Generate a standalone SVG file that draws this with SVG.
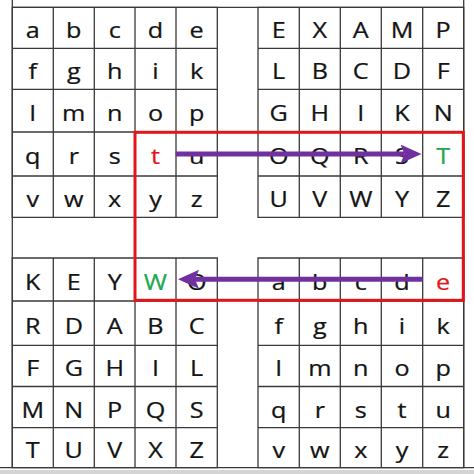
<svg xmlns="http://www.w3.org/2000/svg" width="474" height="474" viewBox="0 0 474 474">
<style>
.g{fill:none;stroke:#3a3a3a;stroke-width:1.3}
.t{font-family:"Open Sans","Liberation Sans",sans-serif;font-size:22.5px;fill:#141414;text-anchor:middle;stroke:#141414;stroke-width:0.25}
.red{fill:#e3141c;stroke:#e3141c}
.grn{fill:#1fa855;stroke:#1fa855}
.arr{stroke:#7030a0;stroke-width:5;fill:none}
</style>
<defs>
<marker id="ah" markerUnits="userSpaceOnUse" markerWidth="24" markerHeight="20" refX="4" refY="9.5" orient="auto">
<path d="M0,0 L21,9.5 L0,19 L4,9.5 Z" fill="#7030a0"/>
</marker>
</defs>
<rect width="474" height="474" fill="#fff"/>
<rect x="0" y="470" width="474" height="4" fill="#d4d4d4"/>
<g id="frame" class="g">
<path d="M12.3,0 V467.7 M463.7,0 V467.7 M12.3,7.3 H463.7 M0,467.7 H474"/>
</g>
<g id="square-top-left">
<path class="g" d="M12.3,7.3 H217.3 V217.3 H12.3 Z M12.3,48.3 H217.3 M12.3,89.3 H217.3 M12.3,132 H217.3 M12.3,176 H217.3 M53.3,7.3 V217.3 M94.3,7.3 V217.3 M135,7.3 V217.3 M176,7.3 V217.3"/>
<g class="t" transform="scale(1.12 1)">
<text x="29.29" y="38.3">a</text><text x="65.89" y="38.3">b</text><text x="102.41" y="38.3">c</text><text x="138.84" y="38.3">d</text><text x="175.63" y="38.3">e</text>
<text x="29.29" y="79.3">f</text><text x="65.89" y="79.3">g</text><text x="102.41" y="79.3">h</text><text x="138.84" y="79.3">i</text><text x="175.63" y="79.3">k</text>
<text x="29.29" y="121.2">l</text><text x="65.89" y="121.2">m</text><text x="102.41" y="121.2">n</text><text x="138.84" y="121.2">o</text><text x="175.63" y="121.2">p</text>
<text x="29.29" y="164.5">q</text><text x="65.89" y="164.5">r</text><text x="102.41" y="164.5">s</text><text x="138.84" y="164.5" class="red">t</text><text x="175.63" y="164.5">u</text>
<text x="29.29" y="207.2">v</text><text x="65.89" y="207.2">w</text><text x="102.41" y="207.2">x</text><text x="138.84" y="207.2">y</text><text x="175.63" y="207.2">z</text>
</g>
</g>
<g id="square-top-right">
<path class="g" d="M258,7.3 H463.7 V217.3 H258 Z M258,48.3 H463.7 M258,89.3 H463.7 M258,132 H463.7 M258,176 H463.7 M299.3,7.3 V217.3 M340.3,7.3 V217.3 M381.3,7.3 V217.3 M422.7,7.3 V217.3"/>
<g class="t" transform="scale(1.12 1)">
<text x="248.84" y="38.3">E</text><text x="285.54" y="38.3">X</text><text x="322.14" y="38.3">A</text><text x="358.93" y="38.3">M</text><text x="395.71" y="38.3">P</text>
<text x="248.84" y="79.3">L</text><text x="285.54" y="79.3">B</text><text x="322.14" y="79.3">C</text><text x="358.93" y="79.3">D</text><text x="395.71" y="79.3">F</text>
<text x="248.84" y="121.2">G</text><text x="285.54" y="121.2">H</text><text x="322.14" y="121.2">I</text><text x="358.93" y="121.2">K</text><text x="395.71" y="121.2">N</text>
<text x="248.84" y="164.5">O</text><text x="285.54" y="164.5">Q</text><text x="322.14" y="164.5">R</text><text x="358.93" y="164.5">S</text><text x="395.71" y="164.5" class="grn">T</text>
<text x="248.84" y="207.2">U</text><text x="285.54" y="207.2">V</text><text x="322.14" y="207.2">W</text><text x="358.93" y="207.2">Y</text><text x="395.71" y="207.2">Z</text>
</g>
</g>
<g id="square-bottom-left">
<path class="g" d="M12.3,258 H217.3 V467.7 H12.3 Z M12.3,301 H217.3 M12.3,345.3 H217.3 M12.3,386.5 H217.3 M12.3,427.7 H217.3 M53.3,258 V467.7 M94.3,258 V467.7 M135,258 V467.7 M176,258 V467.7"/>
<g class="t" transform="scale(1.12 1)">
<text x="29.29" y="290">K</text><text x="65.89" y="290">E</text><text x="102.41" y="290">Y</text><text x="138.84" y="290" class="grn">W</text><text x="175.63" y="290">O</text>
<text x="29.29" y="333.7">R</text><text x="65.89" y="333.7">D</text><text x="102.41" y="333.7">A</text><text x="138.84" y="333.7">B</text><text x="175.63" y="333.7">C</text>
<text x="29.29" y="376.4">F</text><text x="65.89" y="376.4">G</text><text x="102.41" y="376.4">H</text><text x="138.84" y="376.4">I</text><text x="175.63" y="376.4">L</text>
<text x="29.29" y="417.6">M</text><text x="65.89" y="417.6">N</text><text x="102.41" y="417.6">P</text><text x="138.84" y="417.6">Q</text><text x="175.63" y="417.6">S</text>
<text x="29.29" y="458.2">T</text><text x="65.89" y="458.2">U</text><text x="102.41" y="458.2">V</text><text x="138.84" y="458.2">X</text><text x="175.63" y="458.2">Z</text>
</g>
</g>
<g id="square-bottom-right">
<path class="g" d="M258,258 H463.7 V467.7 H258 Z M258,301 H463.7 M258,345.3 H463.7 M258,386.5 H463.7 M258,427.7 H463.7 M299.3,258 V467.7 M340.3,258 V467.7 M381.3,258 V467.7 M422.7,258 V467.7"/>
<g class="t" transform="scale(1.12 1)">
<text x="248.84" y="290">a</text><text x="285.54" y="290">b</text><text x="322.14" y="290">c</text><text x="358.93" y="290">d</text><text x="395.71" y="290" class="red">e</text>
<text x="248.84" y="333.7">f</text><text x="285.54" y="333.7">g</text><text x="322.14" y="333.7">h</text><text x="358.93" y="333.7">i</text><text x="395.71" y="333.7">k</text>
<text x="248.84" y="376.4">l</text><text x="285.54" y="376.4">m</text><text x="322.14" y="376.4">n</text><text x="358.93" y="376.4">o</text><text x="395.71" y="376.4">p</text>
<text x="248.84" y="417.6">q</text><text x="285.54" y="417.6">r</text><text x="322.14" y="417.6">s</text><text x="358.93" y="417.6">t</text><text x="395.71" y="417.6">u</text>
<text x="248.84" y="458.2">v</text><text x="285.54" y="458.2">w</text><text x="322.14" y="458.2">x</text><text x="358.93" y="458.2">y</text><text x="395.71" y="458.2">z</text>
</g>
</g>
<g id="rectangle">
<rect x="135" y="132.3" width="328.3" height="168" fill="none" stroke="#e3141c" stroke-width="3"/>
</g>
<g id="connectors">
<line class="arr" x1="175.7" y1="154" x2="404.5" y2="154" marker-end="url(#ah)"/>
<line class="arr" x1="422.7" y1="279.3" x2="195" y2="279.3" marker-end="url(#ah)"/>
</g>
</svg>
